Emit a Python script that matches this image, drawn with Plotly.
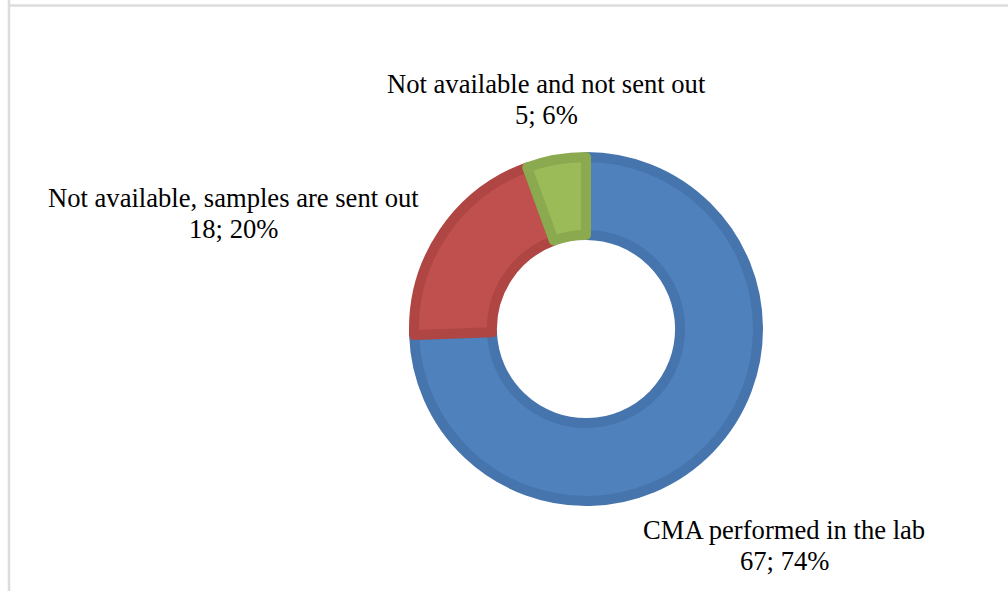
import plotly.graph_objects as go

# Survey responses: where chromosomal microarray (CMA) testing is done
categories = [
    "CMA performed in the lab",
    "Not available, samples are sent out",
    "Not available and not sent out",
]
counts = [67, 18, 5]
fill_colors = ["#4F81BD", "#C0504D", "#9BBB59"]
edge_colors = ["#4674AD", "#AF4643", "#8BA94F"]

total = sum(counts)
percents = [round(100 * c / total) for c in counts]

W, H = 1008, 591
cx, cy, r = 586, 329, 172  # donut centre and radius in pixels

fig = go.Figure(
    go.Pie(
        labels=categories,
        values=counts,
        sort=False,
        direction="clockwise",
        rotation=0,
        hole=0.547,
        textinfo="none",
        hoverinfo="label+value+percent",
        marker=dict(colors=fill_colors, line=dict(color=edge_colors, width=10)),
        domain=dict(
            x=[(cx - r) / W, (cx + r) / W],
            y=[1 - (cy + r) / H, 1 - (cy - r) / H],
        ),
        showlegend=False,
    )
)

# Outside labels: category name over "count; percent" (x centre, first-line y, second-line y)
label_pos = [(784, 530, 561), (233, 198, 229), (546, 84, 115)]
label_font = dict(family="Liberation Serif, Times New Roman, serif", size=26.6, color="#000000")
annotations = []
for name, n, p, (lx, y1, y2) in zip(categories, counts, percents, label_pos):
    for txt, ly in ((name, y1), (f"{n}; {p}%", y2)):
        annotations.append(
            dict(
                x=lx / W,
                y=1 - ly / H,
                xref="paper",
                yref="paper",
                xanchor="center",
                yanchor="middle",
                text=txt,
                showarrow=False,
                font=label_font,
            )
        )

# Thin grey frame along the top and left edges
shapes = [
    dict(type="line", xref="paper", yref="paper", x0=8.5 / W, x1=1, y0=1 - 5.5 / H, y1=1 - 5.5 / H,
         line=dict(color="#DCDCDC", width=2.5)),
    dict(type="line", xref="paper", yref="paper", x0=9 / W, x1=9 / W, y0=0, y1=1,
         line=dict(color="#DCDCDC", width=2.5)),
]

fig.update_layout(
    width=W,
    height=H,
    margin=dict(l=0, r=0, t=0, b=0),
    paper_bgcolor="white",
    plot_bgcolor="white",
    annotations=annotations,
    shapes=shapes,
)

fig.write_html("out.html")
